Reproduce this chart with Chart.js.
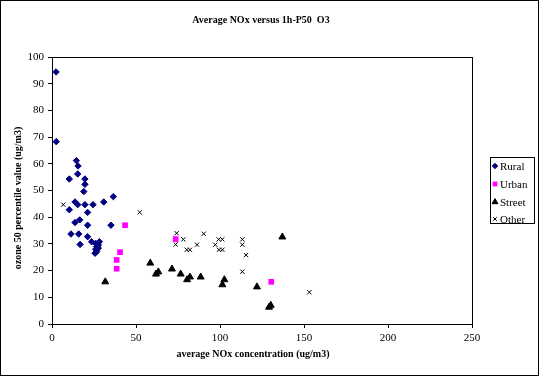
<!DOCTYPE html>
<html>
<head>
<meta charset="utf-8">
<script src="https://cdn.jsdelivr.net/npm/chart.js@4"></script>
<style>
  html, body { margin: 0; padding: 0; background: #fff; }
  canvas { display: block; }
</style>
</head>
<body>
<canvas id="chart" width="539" height="376"></canvas>
<script>
// values (x = NOx, y = ozone P50)
const ruralX = [2.4, 2.5, 14.5, 15.5, 15.3, 10.3, 19.6, 19.6, 18.9, 36.5, 13.7, 15.3, 19.6, 24.4, 30.8, 10.3, 21.2, 13.7, 16.5, 21.2, 35.1, 11.3, 15.9, 21.2, 16.7, 23.6, 28.2, 26.0, 26.6, 27.6, 26.0, 26.6, 25.6, 27.6];
const ruralY = [94.4, 68.3, 61.2, 59.2, 56.2, 54.3, 54.3, 52.3, 49.6, 47.7, 45.7, 44.7, 44.7, 44.7, 45.7, 42.8, 41.8, 38.0, 39.0, 37.0, 37.0, 33.7, 33.7, 32.7, 29.8, 30.8, 30.8, 30.2, 29.0, 29.6, 28.0, 27.1, 26.5, 28.4];

const urbanX = [43.5, 40.5, 38.5, 38.5, 73.6, 130.5];
const urbanY = [37.0, 26.9, 24.0, 20.7, 31.8, 15.8];

const streetX = [31.7, 58.5, 61.9, 63.3, 71.4, 76.6, 80.4, 82.1, 88.5, 101.4, 102.6, 122.0, 129.2, 130.2, 137.1];
const streetY = [15.8, 22.8, 18.7, 19.5, 20.6, 18.7, 16.6, 17.6, 17.6, 14.7, 16.6, 13.9, 6.3, 7.0, 32.6];

const otherX = [6.7, 52.2, 74.2, 73.6, 78.2, 80.2, 82.1, 86.3, 90.3, 97.2, 99.2, 101.4, 99.4, 101.4, 113.3, 113.3, 115.5, 113.3, 153.2];
const otherY = [44.7, 41.8, 34.0, 29.8, 31.7, 27.8, 27.8, 29.7, 33.8, 29.7, 31.7, 31.7, 27.8, 27.8, 31.7, 29.7, 25.8, 19.6, 11.9];

const seriesNames = ['Rural', 'Urban', 'Street', 'Other'];
const xTickStep = 50;
const yTickStep = 10;

const FONT = '"Liberation Serif", "Times New Roman", serif';

function pts(xs, ys){
  return xs.map((x, i) => ({ x: x, y: ys[i] }));
}

const styles = [
  { pointStyle: 'rectRot', radius: 3.2, color: '#000080', borderWidth: 1 },
  { pointStyle: 'rect', radius: 4, color: '#FF00FF', borderWidth: 0 },
  { pointStyle: 'triangle', radius: 4, color: '#000000', borderWidth: 1 },
  { pointStyle: 'crossRot', radius: 3, color: '#000000', borderWidth: 1 }
];

const seriesData = [pts(ruralX, ruralY), pts(urbanX, urbanY), pts(streetX, streetY), pts(otherX, otherY)];

const datasets = seriesNames.map((name, i) => ({
  label: name,
  data: seriesData[i],
  pointStyle: styles[i].pointStyle,
  pointRadius: styles[i].radius,
  pointHoverRadius: styles[i].radius,
  backgroundColor: styles[i].color,
  borderColor: styles[i].color,
  pointBorderWidth: styles[i].borderWidth,
  showLine: false
}));

// frame, titles and the boxed legend, in the old spreadsheet look
const decor = {
  id: 'decor',
  beforeDraw(chart){
    const ctx = chart.ctx;
    ctx.save();
    ctx.fillStyle = '#fff';
    ctx.fillRect(0, 0, chart.width, chart.height);
    ctx.restore();
  },
  afterDraw(chart){
    const ctx = chart.ctx;
    const a = chart.chartArea;
    ctx.save();
    ctx.strokeStyle = '#000';
    ctx.lineWidth = 1;
    // outer border
    ctx.strokeRect(0.5, 0.5, chart.width - 1, chart.height - 1);
    // plot area box
    const l = Math.round(a.left - 0.5) + 0.5, r = Math.round(a.right - 0.5) + 0.5;
    const t = Math.round(a.top - 0.5) + 0.5, b = Math.round(a.bottom - 0.5) + 0.5;
    ctx.strokeRect(l, t, r - l, b - t);

    ctx.fillStyle = '#000';
    ctx.textAlign = 'center';
    ctx.textBaseline = 'middle';
    ctx.font = 'bold 10px ' + FONT;
    ctx.fillText('Average NOx versus 1h-P50  O3', 261, 20);
    ctx.fillText('average NOx concentration (ug/m3)', 253, 354);
    ctx.save();
    ctx.translate(18, 198);
    ctx.rotate(-Math.PI / 2);
    ctx.fillText('ozone 50 percentile value (ug/m3)', 0, 0);
    ctx.restore();

    // legend
    ctx.strokeRect(490.5, 157.5, 44, 66);
    const rowY = [166, 184, 202, 219];
    ctx.font = '11px ' + FONT;
    ctx.textAlign = 'left';
    chart.data.datasets.forEach((ds, i) => {
      ctx.fillStyle = ds.backgroundColor;
      ctx.strokeStyle = ds.borderColor;
      ctx.lineWidth = ds.pointBorderWidth;
      Chart.helpers.drawPoint(ctx, {
        pointStyle: ds.pointStyle,
        radius: ds.pointRadius * 0.85,
        rotation: 0,
        borderWidth: ds.pointBorderWidth
      }, 495, rowY[i]);
      ctx.fillStyle = '#000';
      ctx.fillText(ds.label, 500, rowY[i] + 1);
    });
    ctx.restore();
  }
};

new Chart(document.getElementById('chart'), {
  type: 'scatter',
  data: { datasets: datasets },
  options: {
    responsive: false,
    animation: false,
    layout: { padding: { left: 0, top: 57, right: 67, bottom: 0 } },
    plugins: {
      legend: { display: false },
      title: { display: false },
      tooltip: { enabled: false }
    },
    scales: {
      x: {
        type: 'linear',
        min: 0,
        max: 250,
        afterFit(scale){ scale.height = 52; },
        ticks: { stepSize: xTickStep, color: '#000', font: { family: FONT, size: 11 }, padding: 4, maxRotation: 0 },
        grid: { drawOnChartArea: false, drawTicks: true, tickLength: 4, color: '#000' },
        border: { display: true, color: '#000', width: 1 }
      },
      y: {
        type: 'linear',
        min: 0,
        max: 100,
        afterFit(scale){ scale.width = 52; },
        ticks: { stepSize: yTickStep, color: '#000', font: { family: FONT, size: 11 }, padding: 4 },
        grid: { drawOnChartArea: false, drawTicks: true, tickLength: 4, color: '#000' },
        border: { display: true, color: '#000', width: 1 }
      }
    }
  },
  plugins: [decor]
});
</script>
</body>
</html>
